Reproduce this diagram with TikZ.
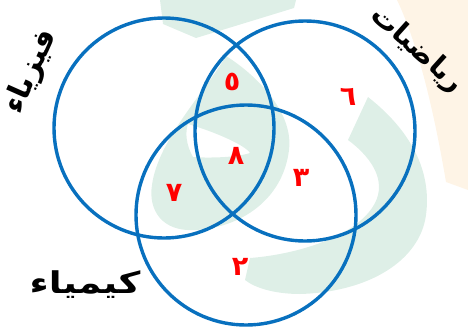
\documentclass[tikz,border=0pt]{standalone}
\usepackage{fontspec}
\newfontfamily\arabicfont[Script=Arabic]{DejaVu Sans}
\TeXXeTstate=1
\definecolor{ringblue}{RGB}{8,112,190}
\definecolor{wmgreen}{RGB}{222,239,231}
\definecolor{wmorange}{RGB}{254,244,230}

\begin{document}
\begin{tikzpicture}[x=1pt, y=-1pt,
  ring/.style={draw=ringblue, line width=3.4pt, circle, minimum size=220pt, inner sep=0pt},
  num/.style={text=red, font=\arabicfont\bfseries\fontsize{27}{27}\selectfont},
  subj/.style={font=\arabicfont\bfseries\fontsize{30}{30}\selectfont}]
  \useasboundingbox (0,0) rectangle (468,332);
  % faint watermark behind the diagram
  \fill[wmorange] (397,0) -- (468,0) -- (468,190) -- (446,182) .. controls (432,100) and (416,40) .. (397,0) -- cycle;
  \fill[wmgreen] (160,0) -- (296,0) -- (294,8) -- (196,38) -- (163,24) -- cycle;
  \fill[wmgreen, even odd rule] (226,56) .. controls (252,72) and (294,110) .. (289,150) .. controls (283,200) and (240,228) .. (195,230) .. controls (162,232) and (148,210) .. (152,185) .. controls (158,140) and (205,92) .. (226,56) -- cycle
    (188,124) .. controls (215,132) and (245,145) .. (250,153) .. controls (235,158) and (205,158) .. (193,157) .. controls (186,145) and (185,132) .. (188,124) -- cycle;
  \fill[wmgreen] (348,140) -- (368,97) .. controls (410,130) and (432,170) .. (426,215) .. controls (420,260) and (370,292) .. (300,294) .. controls (275,294) and (255,288) .. (245,280) -- (250,258) .. controls (290,255) and (350,240) .. (372,208) .. controls (388,185) and (375,160) .. (348,140) -- cycle;

  \node[ring] (phys) at (164,128) {};
  \node[ring] (math) at (305,131) {};
  \node[ring] (chem) at (246,215) {};

  \node[subj, rotate=66] (physlbl) at (31,72) {\beginR فيزياء\endR};
  \node[subj, rotate=-42, font=\arabicfont\bfseries\fontsize{28}{28}\selectfont] (mathlbl) at (417,50) {\beginR رياضيات\endR};
  \node[subj, xscale=1.25] (chemlbl) at (85,285) {\beginR كيمياء\endR};

  \node[num] (n5) at (232,82) {٥};
  \node[num] (n6) at (348,97) {٦};
  \node[num] (n8) at (236,156) {٨};
  \node[num] (n3) at (301,178) {٣};
  \node[num] (n7) at (174,193) {٧};
  \node[num] (n2) at (240,267) {٢};
\end{tikzpicture}
\end{document}
